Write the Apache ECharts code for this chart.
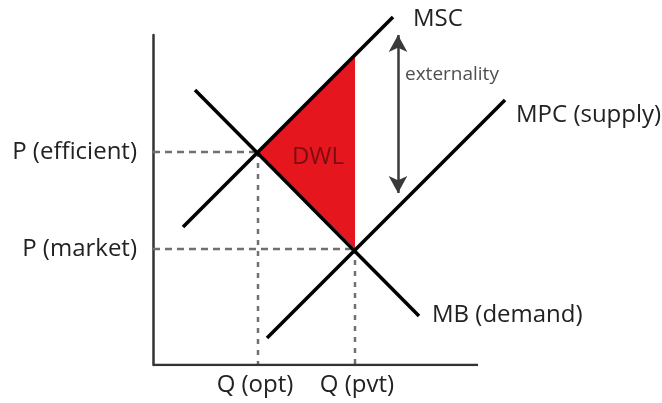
<!DOCTYPE html>
<html>
<head>
<meta charset="utf-8">
<script src="https://cdn.jsdelivr.net/npm/echarts@6/dist/echarts.min.js"></script>
<style>
html, body { margin: 0; padding: 0; background: #fff; }
#chart { width: 662px; height: 403px; }
</style>
</head>
<body>
<div id="chart"></div>
<script>
// tick positions and labels (quantity on x, price on y)
const qTicks = [102, 204];
const qLabels = ['Q (opt)', 'Q (pvt)'];
const pTicks = [116, 213];
const pLabels = ['P (market)', 'P (efficient)'];

// visible length of the quantity axis
const qAxisEnd = 325;

// curves
const curveNames = ['MSC', 'MPC (supply)', 'MB (demand)'];
const msc = [[30, 138], [240, 348]];
const mpc = [[114, 27], [352, 265]];
const mb = [[42, 275], [266, 49]];

// deadweight loss triangle
const dwl = [[105, 213], [202, 116], [202, 310]];

// externality arrow (top, bottom)
const externality = [[245, 330], [245, 172]];

const font = '"Open Sans", "DejaVu Sans", sans-serif';

const chart = echarts.init(document.getElementById('chart'));

// dashed guides from the two equilibrium points to the axes
const eqPoints = [dwl[0], dwl[1]];
const guides = eqPoints.map(([q, p]) => ({ h: [[0, p], [q, p]], v: [[q, p], [q, 0]] }));

const series = [];

// DWL fill
series.push({
  type: 'custom',
  data: dwl,
  z: 1,
  silent: true,
  renderItem: function (params, api) {
    if (params.dataIndex > 0) return null;
    return {
      type: 'polygon',
      shape: { points: dwl.map(p => api.coord(p)) },
      style: { fill: '#e6161f' }
    };
  }
});

guides.forEach(g => {
  series.push({
    type: 'line', data: g.h, showSymbol: false, z: 2, silent: true,
    lineStyle: { color: '#707070', width: 2.5, type: [7, 5] }
  });
  series.push({
    type: 'line', data: g.v, showSymbol: false, z: 2, silent: true,
    lineStyle: { color: '#707070', width: 2.5, type: [5, 6] }
  });
});

// quantity axis line
series.push({
  type: 'line', data: [[0, 0], [qAxisEnd, 0]], showSymbol: false, z: 4, silent: true,
  lineStyle: { color: '#333', width: 2.5 }
});

const endOffsets = [[12, 2], [3, 15], [5, -1]];
[msc, mpc, mb].forEach((d, i) => {
  series.push({
    name: curveNames[i],
    type: 'line', data: d, showSymbol: false, clip: false, z: 3, silent: true,
    lineStyle: { color: '#000', width: 3.5 },
    endLabel: {
      show: true, formatter: curveNames[i], color: '#222',
      fontFamily: font, fontSize: 24, offset: endOffsets[i]
    }
  });
});

// externality arrow
series.push({
  type: 'line', data: [], silent: true, clip: false,
  markLine: {
    silent: true,
    symbol: ['arrow', 'arrow'],
    symbolSize: [14, 17],
    lineStyle: { color: '#3a3a3a', width: 2.5, type: 'solid' },
    label: { show: false },
    data: [[{ coord: externality[0] }, { coord: externality[1] }]]
  }
});

// text labels inside the plot
series.push({
  type: 'scatter', symbolSize: 0, silent: true, clip: false,
  data: [
    { value: [165, 208], label: { formatter: 'DWL', color: '#5e0c0c', fontSize: 24, align: 'center' } },
    { value: [252, 290], label: { formatter: 'externality', color: '#222', fontSize: 19, align: 'left' } }
  ],
  label: { show: true, position: 'inside', fontFamily: font }
});

const option = {
  animation: false,
  grid: { left: 153, top: 35, width: 360, height: 330 },
  xAxis: {
    type: 'value', min: 0, max: 360,
    splitLine: { show: false },
    axisTick: { show: false },
    axisLine: { show: false },
    axisLabel: {
      customValues: qTicks,
      formatter: v => qLabels[qTicks.indexOf(v)] || '',
      color: '#222', fontFamily: font, fontSize: 24, margin: 8
    }
  },
  yAxis: {
    type: 'value', min: 0, max: 330,
    splitLine: { show: false },
    axisTick: { show: false },
    axisLine: { show: true, lineStyle: { color: '#333', width: 2.5 } },
    axisLabel: {
      customValues: pTicks,
      formatter: v => pLabels[pTicks.indexOf(v)] || '',
      color: '#222', fontFamily: font, fontSize: 24, margin: 16
    }
  },
  series: series
};

chart.setOption(option);
</script>
</body>
</html>
